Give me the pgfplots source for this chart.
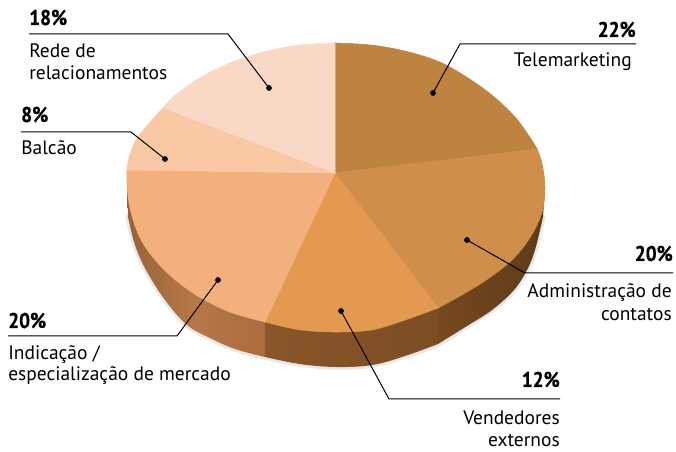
\documentclass[border=0pt]{standalone}
\usepackage{fontspec}
\setmainfont{PT Sans}
\newfontfamily\pctfont[FakeStretch=0.9,FakeBold=0.6]{PT Sans}
\usepackage{pgfplots}
\pgfplotsset{compat=1.18}
\definecolor{tele}{RGB}{190,130,65}
\definecolor{admin}{RGB}{208,142,75}
\definecolor{vend}{RGB}{228,153,80}
\definecolor{indic}{RGB}{243,176,125}
\definecolor{balcao}{RGB}{250,200,165}
\definecolor{rede}{RGB}{250,216,198}
\newcommand{\lab}[1]{\fontsize{14.6}{16}\selectfont #1}
\newcommand{\pct}[1]{\fontsize{16}{18}\selectfont\pctfont\bfseries #1}
\begin{document}
\begin{tikzpicture}
\begin{axis}[
    scale only axis, width=507pt, height=339pt,
    xmin=0, xmax=676, ymin=0, ymax=452, y dir=reverse,
    hide axis, clip=false]
\path (axis cs:0,0) rectangle (axis cs:676,452);
\pgfplotsset{
  rim/.style={smooth, tension=0.6, mark=none, draw=#1, line width=0.4pt, fill=#1},
  flat/.style={mark=none, draw=#1, line width=0.4pt, fill=#1},
  leader/.style={black, line width=0.75pt, mark=none},
  dot/.style={only marks, mark=*, mark size=1.9pt, black}}
% soft shadow under the rim
\addplot[smooth, tension=0.6, mark=none, draw=black, opacity=0.09, line width=4pt, line cap=round] coordinates {
  (128,217) (135,245) (146,270) (165,300) (187,325) (210,338) (235,349) (265,357)
  (299.7,364) (336,367) (372.3,365) (405,356) (438,344) (467,326) (492,310) (514,290) (527,270) (535,250) (543,217)};
% side of the pie, the upper part lies under the top face
\addplot[smooth, tension=0.6, mark=none, draw=none, left color={rgb,255:red,150;green,100;blue,55}, right color={rgb,255:red,172;green,108;blue,62}, middle color={rgb,255:red,182;green,120;blue,72}] coordinates {
  (128,217) (135,245) (146,270) (165,300) (187,325) (210,338) (235,349) (265,357)} -- (axis cs:265,322) -- (axis cs:127,183) -- cycle;
\addplot[smooth, tension=0.6, mark=none, draw=none, left color={rgb,255:red,138;green,86;blue,42}, right color={rgb,255:red,125;green,76;blue,35}] coordinates {
  (265,357) (299.7,364) (336,367) (372.3,365) (405,356) (438,344)} -- (axis cs:438,308) -- (axis cs:265,322) -- cycle;
\addplot[smooth, tension=0.6, mark=none, draw=none, left color={rgb,255:red,120;green,72;blue,30}, right color={rgb,255:red,92;green,60;blue,28}] coordinates {
  (438,344) (467,326) (492,310) (514,290) (527,270) (535,250) (543,217)} -- (axis cs:545,187.5) -- (axis cs:438,308) -- cycle;
% top face: wedge body, then its smooth rim
\addplot[rim=tele] coordinates {(335,43) (372.3,45.2) (407.5,51.7) (440.5,62.4) (468,78) (493,96) (515,117) (531,139) (537,149)} -- cycle;
\addplot[flat=tele] coordinates {(335,173) (335,43) (537,149)} -- cycle;
\addplot[rim=admin] coordinates {(537,149) (541.8,162.4) (545,187.5) (541.8,212.6) (531,236) (514,258) (492,276) (467,292) (438,308)} -- cycle;
\addplot[flat=admin] coordinates {(335,173) (537,149) (438,308)} -- cycle;
\addplot[rim=vend] coordinates {(438,308) (405,320) (372.3,329.8) (336,332) (299.7,329.8) (265,322)} -- cycle;
\addplot[flat=vend] coordinates {(335,173) (438,308) (265,322)} -- cycle;
\addplot[rim=indic] coordinates {(265,322) (231.5,312.6) (201.6,298.2) (175.9,280.4) (155,259.7) (139.6,236.9) (130,208) (127,183) (127,170)} -- cycle;
\addplot[flat=indic] coordinates {(335,173) (265,322) (127,170)} -- cycle;
\addplot[rim=balcao] coordinates {(127,170) (129,158) (138,137) (163,108)} -- cycle;
\addplot[flat=balcao] coordinates {(335,173) (127,170) (163,108)} -- cycle;
\addplot[rim=rede] coordinates {(163,108) (175.9,94.6) (201.6,76.8) (231.5,62.4) (264.5,51.7) (299.7,45.2) (335,43)} -- cycle;
\addplot[flat=rede] coordinates {(335,173) (163,108) (335,43)} -- cycle;
% leader lines
\addplot[leader] coordinates {(29,34) (228,34) (269,88)};
\addplot[leader] coordinates {(21,132) (131,132) (165,159)};
\addplot[leader] coordinates {(636,44) (460,44) (433,93)};
\addplot[leader] coordinates {(673,273) (525,273) (467,240)};
\addplot[leader] coordinates {(560,399) (389,399) (341,311)};
\addplot[leader] coordinates {(8,336) (177,336) (218,280)};
\addplot[dot] coordinates {(269,88) (165,159) (433,93) (467,240) (341,311) (218,280)};
% labels
\node[anchor=base west, inner sep=0pt] at (axis cs:29,25) {\pct{18\%}};
\node[anchor=base west, inner sep=0pt] at (axis cs:29,58) {\lab{Rede de}};
\node[anchor=base west, inner sep=0pt] at (axis cs:29,80) {\lab{relacionamentos}};
\node[anchor=base west, inner sep=0pt] at (axis cs:21,122) {\pct{8\%}};
\node[anchor=base west, inner sep=0pt] at (axis cs:21,155) {\lab{Balcão}};
\node[anchor=base east, inner sep=0pt] at (axis cs:636,37) {\pct{22\%}};
\node[anchor=base east, inner sep=0pt] at (axis cs:632,67) {\lab{Telemarketing}};
\node[anchor=base east, inner sep=0pt] at (axis cs:673,261) {\pct{20\%}};
\node[anchor=base east, inner sep=0pt] at (axis cs:672,298) {\lab{Administração de}};
\node[anchor=base east, inner sep=0pt] at (axis cs:672,321) {\lab{contatos}};
\node[anchor=base east, inner sep=0pt] at (axis cs:560,387) {\pct{12\%}};
\node[anchor=base east, inner sep=0pt] at (axis cs:560,425) {\lab{Vendedores}};
\node[anchor=base east, inner sep=0pt] at (axis cs:560,447) {\lab{externos}};
\node[anchor=base west, inner sep=0pt] at (axis cs:8,328) {\pct{20\%}};
\node[anchor=base west, inner sep=0pt] at (axis cs:8,360) {\lab{Indicação /}};
\node[anchor=base west, inner sep=0pt] at (axis cs:8,381) {\lab{especialização de mercado}};
\end{axis}
\end{tikzpicture}
\end{document}
